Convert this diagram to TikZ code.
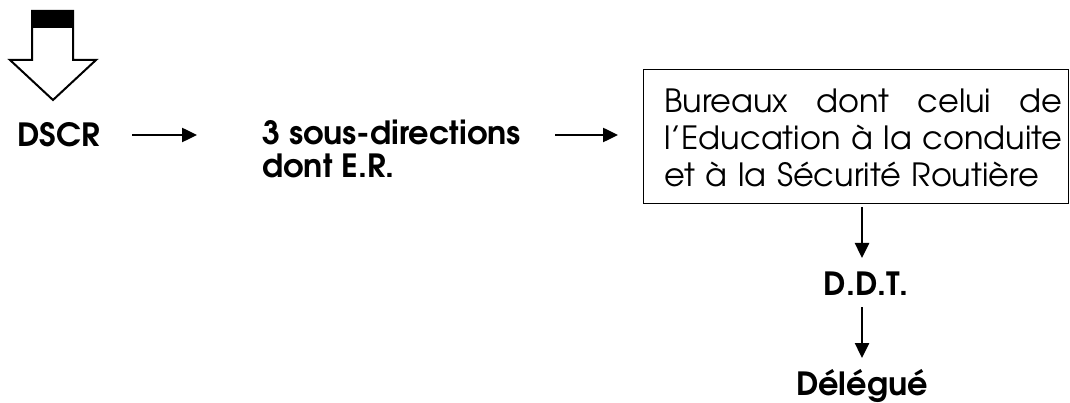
\documentclass[tikz,border=0pt]{standalone}
\usepackage{fontspec}
\setmainfont{TeX Gyre Adventor}
\usetikzlibrary{arrows.meta}
\begin{document}
\begin{tikzpicture}[x=1pt,y=-1pt,
  lbl/.style={font=\bfseries\fontsize{32}{33}\selectfont, inner sep=0pt},
  conn/.style={line width=2.5pt,-{Triangle[length=15pt,width=14pt]}}]
\useasboundingbox (0,0) rectangle (1070,403);
% block arrow
\draw[line width=2pt, fill=white] (32,11) -- (73,11) -- (73,60) -- (96,60) -- (53,100) -- (10,60) -- (32,60) -- cycle;
\fill (32,11) rectangle (73,28);
% labels
\node[lbl, anchor=base west] (dscr) at (17,147) {DSCR};
\node[lbl, anchor=base west] (sous) at (262,145) {3 sous-directions};
\node[lbl, anchor=base west] (dont) at (262,178) {dont E.R.};
% box
\node[draw, line width=1.3pt, minimum width=425pt, minimum height=134pt, anchor=north west, inner sep=0pt] (box) at (643,69) {};
\node[anchor=north west, inner sep=0pt, font=\fontsize{32}{37}\selectfont, text width=398pt, align=left] (boxtext) at (664,89)
  {\makebox[398pt][s]{Bureaux\hfill dont\hfill celui\hfill de}\\\mbox{l'Education à la conduite}\\\mbox{et à la Sécurité Routière}};
\node[lbl, anchor=base] (ddt) at (866,295) {D.D.T.};
\node[lbl, anchor=base] (del) at (862,395) {Délégué};
% connectors
\coordinate (a1s) at (132,135); \coordinate (a1e) at (197,135);
\coordinate (a2s) at (555,135); \coordinate (a2e) at (618,135);
\draw[conn] (a1s) -- (a1e);
\draw[conn] (a2s) -- (a2e);
\coordinate (a3s) at (862,207); \coordinate (a3e) at (862,258);
\coordinate (a4s) at (862,307); \coordinate (a4e) at (862,358);
\draw[conn] (a3s) -- (a3e);
\draw[conn] (a4s) -- (a4e);
\end{tikzpicture}
\end{document}
